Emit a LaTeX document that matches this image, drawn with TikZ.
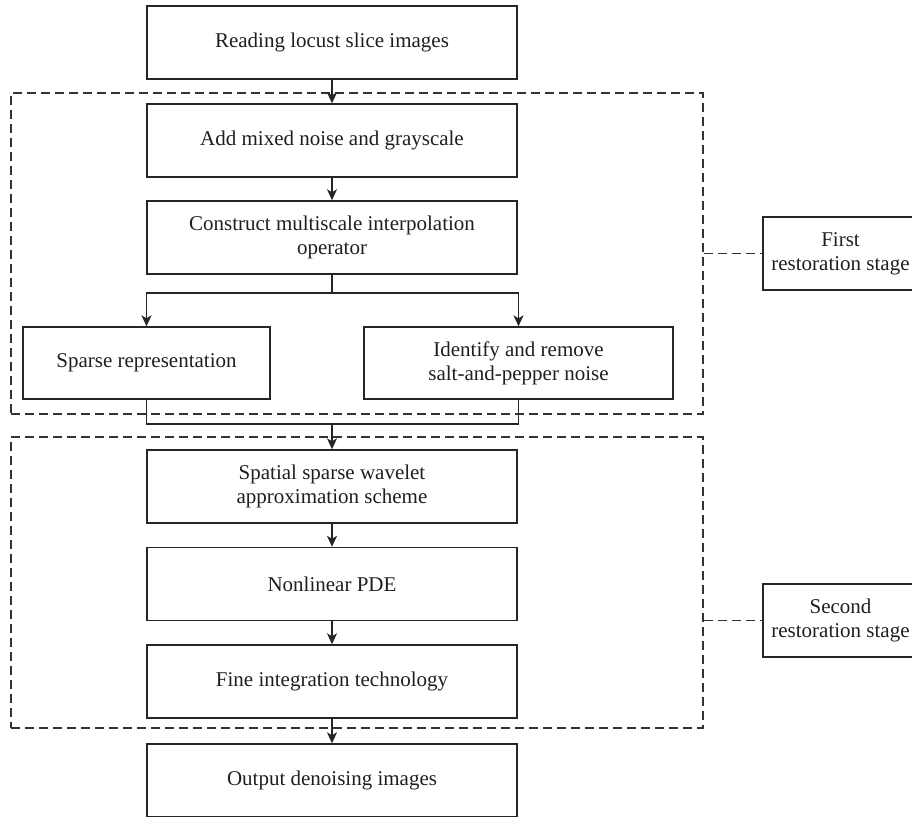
\documentclass[tikz,border=0pt]{standalone}
\usepackage{fontspec}
\setmainfont{Liberation Serif}
\usepackage{tikz}
\usetikzlibrary{arrows.meta}

\begin{document}
\begin{tikzpicture}[
  x=1pt,y=-1pt,
  font=\fontsize{21}{24}\selectfont,
  every node/.style={align=center,text=black!88},
  block/.style={draw=black!85,line width=1.4pt,minimum width=370,minimum height=73,inner sep=0pt},
  side/.style={block,minimum width=155},
  frame/.style={draw=black!80,line width=1.3pt,dash pattern=on 9pt off 5pt,inner sep=0pt},
  link/.style={draw=black!80,line width=1.3pt,dash pattern=on 9pt off 5pt},
  to/.style={-{Stealth[length=11pt,width=10pt,inset=3pt]},draw=black!85,line width=1.4pt},
  line/.style={draw=black!85,line width=1.4pt}]

  \useasboundingbox (0,0) rectangle (912,816);

  % Dashed frames of the two stages
  \node[frame,minimum width=692,minimum height=321] (stageA) at (357,253.5) {};
  \node[frame,minimum width=692,minimum height=291] (stageB) at (357,582.5) {};

  % Position the nodes
  \node[block] (read) at (332,42.5) {Reading locust slice images};
  \node[block] (noise) at (332,140.5) {Add mixed noise and grayscale};
  \node[block] (interp) at (332,237.5) {Construct multiscale interpolation\\operator};
  \node[block,minimum width=247,minimum height=72] (sparse) at (146.5,363) {Sparse representation};
  \node[block,minimum width=309,minimum height=72] (salt) at (518.5,363) {Identify and remove\\salt-and-pepper noise};
  \node[block] (wavelet) at (332,486.5) {Spatial sparse wavelet\\approximation scheme};
  \node[block] (pde) at (332,584) {Nonlinear PDE};
  \node[block] (fine) at (332,681.5) {Fine integration technology};
  \node[block] (output) at (332,780.5) {Output denoising images};
  \node[side] (first) at (840.5,253.5) {First\\restoration stage};
  \node[side] (second) at (840.5,620.5) {Second\\restoration stage};

  \coordinate (split) at (332,293);
  \coordinate (merge) at (332,424);

  % Draw the arrows between the nodes
  \draw[to] (read) -- (noise);
  \draw[to] (noise) -- (interp);
  \draw[line] (interp.south) -- (split);
  \draw[to] (split) -| (sparse.north);
  \draw[to] (split) -| (salt.north);
  \draw[line] (sparse.south) |- (merge) -| (salt.south);
  \draw[to] (merge) -- (wavelet);
  \draw[to] (wavelet) -- (pde);
  \draw[to] (pde) -- (fine);
  \draw[to] (fine) -- (output);

  % Dashed links to the stage labels
  \draw[link] (stageA.east) -- (first.west);
  \draw[link] (stageB.east |- second.west) -- (second.west);
\end{tikzpicture}
\end{document}
